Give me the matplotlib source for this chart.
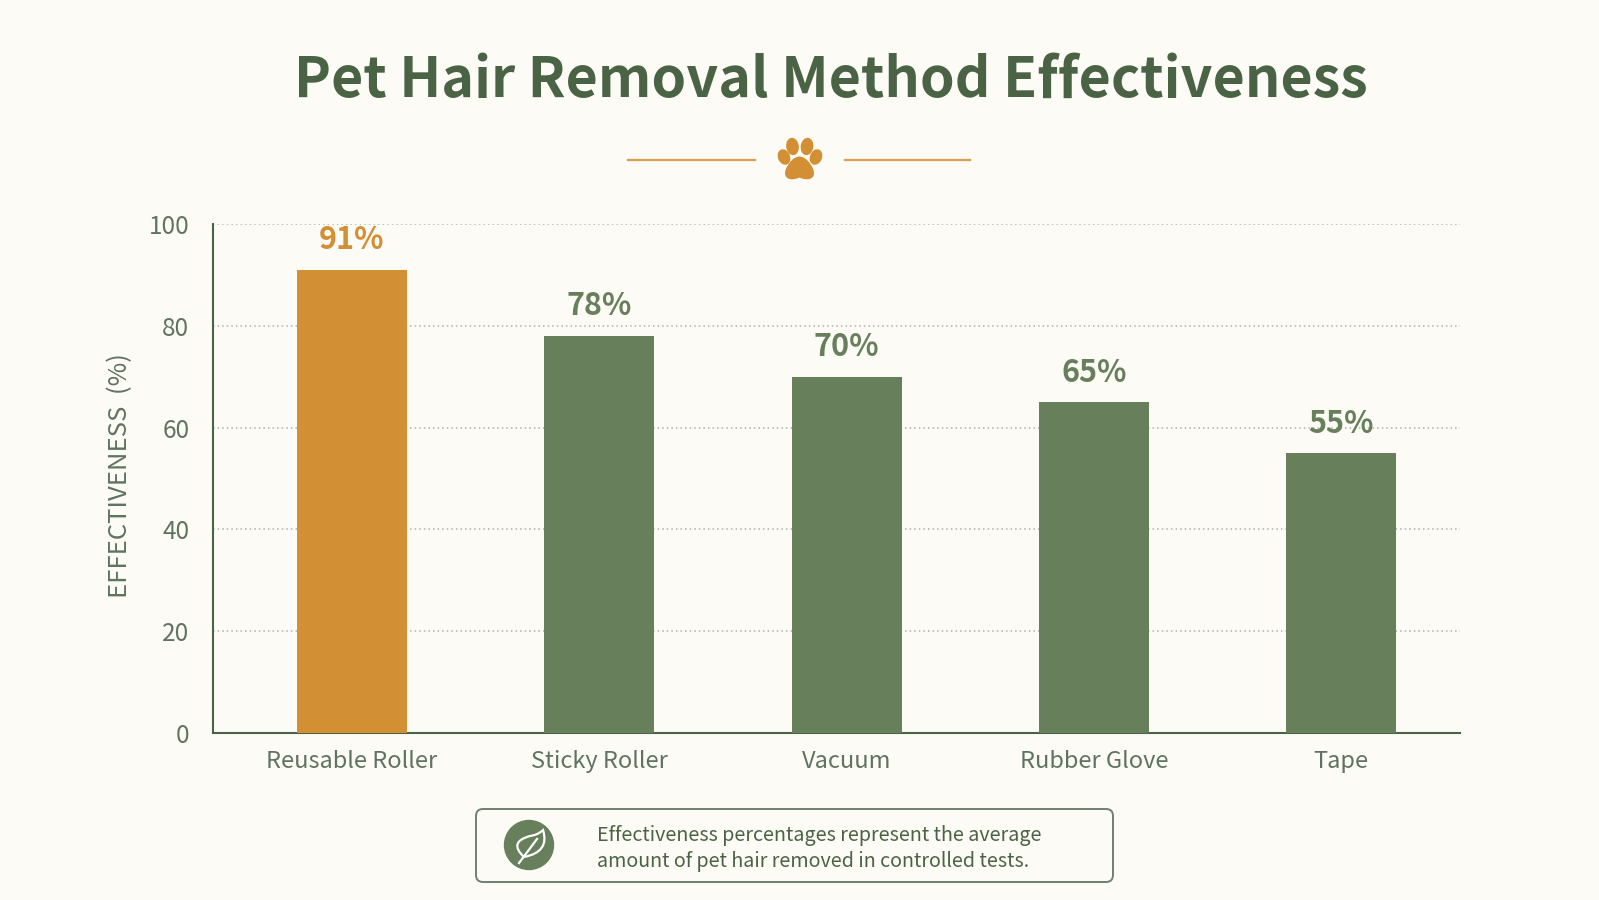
import matplotlib.pyplot as plt
from matplotlib.patches import Circle, Ellipse, FancyBboxPatch, PathPatch
from matplotlib.path import Path

methods = ['Reusable Roller', 'Sticky Roller', 'Vacuum', 'Rubber Glove', 'Tape']
effectiveness = [91, 78, 70, 65, 55]
y_ticks = [0, 20, 40, 60, 80, 100]

BG = '#fdfbf6'
GREEN = '#687f5c'
DARK = '#4a6344'
ORANGE = '#d38f33'
GREY = '#5f7362'

plt.rcParams['font.family'] = ['Noto Sans CJK JP', 'DejaVu Sans']

W, H = 1599, 900
fig = plt.figure(figsize=(W / 100, H / 100), dpi=100, facecolor=BG)
ax = fig.add_axes([213 / W, 1 - 733 / H, 1247 / W, 509 / H], facecolor='none')

colors = [ORANGE] + [GREEN] * 4
ax.bar(range(5), effectiveness, width=0.445, color=colors, zorder=3)
for i, v in enumerate(effectiveness):
    ax.text(i, v + 5.8, f'{v}%', ha='center', va='center', fontsize=22,
            fontweight='bold', color=ORANGE if i == 0 else GREEN)

ax.set_xlim(-0.562, 4.48)
ax.set_ylim(0, 100)
ax.set_yticks(y_ticks)
ax.set_xticks(range(5), methods)
ax.tick_params(axis='both', length=0, labelcolor=GREY)
ax.tick_params(axis='x', pad=12, labelsize=17)
ax.tick_params(axis='y', pad=17, labelsize=17.5)
ax.grid(axis='y', color='#adb3a6', linestyle=(0, (1, 2)), linewidth=1.1, zorder=0)
ax.spines[['top', 'right']].set_visible(False)
ax.spines[['left', 'bottom']].set_color(DARK)
ax.spines[['left', 'bottom']].set_linewidth(1.5)
ax.set_ylabel('EFFECTIVENESS  (%)', fontsize=18.5, color=GREY)
ax.yaxis.set_label_coords(-0.0637, 0.506)

# overlay in pixel coordinates for the title ornament and the note box
over = fig.add_axes([0, 0, 1, 1], facecolor='none')
over.set_xlim(0, W)
over.set_ylim(H, 0)
over.axis('off')

over.text(831, 81, 'Pet Hair Removal Method Effectiveness', ha='center', va='center',
          fontsize=40, fontweight='bold', color=DARK)

over.plot([628, 755], [160, 160], color=ORANGE, lw=1.6, alpha=0.85)
over.plot([845, 970], [160, 160], color=ORANGE, lw=1.6, alpha=0.85)

# paw: four toes and a rounded pad
for cx, cy, rx, ry, ang in [(792.5, 146.5, 5.6, 8, -8), (807, 146.5, 5.6, 8, 8),
                            (784, 157, 5.3, 7.3, -22), (816, 157, 5.3, 7.3, 22)]:
    over.add_patch(Ellipse((cx, cy), rx * 2, ry * 2, angle=ang, color=ORANGE))
pad = Path([(799.5, 156.5), (792, 156.5), (785, 168), (785, 173), (785, 181), (795, 180), (799.5, 177.5),
            (804, 180), (814, 181), (814, 173), (814, 168), (807, 156.5), (799.5, 156.5)],
           [Path.MOVETO] + [Path.CURVE4] * 12)
over.add_patch(PathPatch(pad, color=ORANGE, lw=0))

# note box with the leaf badge
over.add_patch(FancyBboxPatch((476, 809), 637, 73, boxstyle='round,pad=0,rounding_size=7',
                              fc=BG, ec='#6f8070', lw=1.4))
over.add_patch(Circle((529, 845), 24.5, color=GREEN))
leaf = Path([(524, 857), (508, 842), (530, 836), (538, 835), (543, 830), (550, 852), (524, 857)],
            [Path.MOVETO, Path.CURVE3, Path.CURVE3, Path.CURVE3, Path.CURVE3, Path.CURVE3, Path.CURVE3])
over.add_patch(PathPatch(leaf, fc='none', ec='white', lw=1.6))
over.plot([519, 537], [863, 839], color='white', lw=1.6)

over.text(597, 836, 'Effectiveness percentages represent the average', ha='left', va='center',
          fontsize=14.2, color=DARK)
over.text(597, 862, 'amount of pet hair removed in controlled tests.', ha='left', va='center',
          fontsize=14.2, color=DARK)

fig.savefig('out.png', dpi=100, facecolor=BG)
